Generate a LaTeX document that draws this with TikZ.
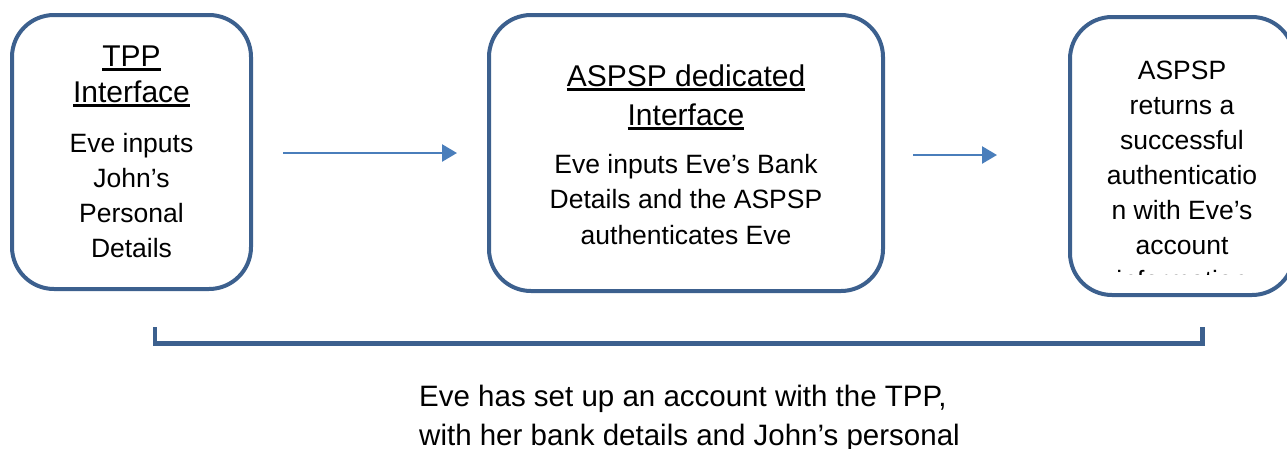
\documentclass[tikz,border=0pt]{standalone}
\usepackage{fontspec}
\setmainfont{Liberation Sans}
\usetikzlibrary{arrows.meta}
\definecolor{boxblue}{RGB}{60,96,142}
\definecolor{arrowblue}{RGB}{74,126,187}
\newcommand{\myul}[1]{\setbox0\hbox{#1}\rlap{\rule[-4.5pt]{\wd0}{2.6pt}}\box0}
\tikzset{
  stagebox/.style={draw=boxblue, line width=4pt, rounded corners=42pt, fill=white, inner sep=0pt},
  txt/.style={inner sep=0pt, align=center, font=\fontsize{26.5}{35}\selectfont, anchor=north},
  ttl/.style={inner sep=0pt, align=center, anchor=north},
  flow/.style={draw=arrowblue, line width=2.5pt, -{Triangle[length=15pt,width=17pt]}},
  bracketline/.style={draw=boxblue, line width=4.6pt, line cap=butt}
}
\begin{document}
\begin{tikzpicture}[x=1pt,y=-1pt]
\useasboundingbox (0,0) rectangle (1287,448);
\clip (0,0) rectangle (1287,448);
% boxes
\node[stagebox, minimum width=239pt, minimum height=274pt] (b1) at (131.5,152) {};
\node[stagebox, minimum width=394pt, minimum height=276pt] (b2) at (686,153) {};
\node[stagebox, minimum width=224pt, minimum height=278pt] (b3) at (1182,156) {};
% titles
\node[ttl, font=\fontsize{30}{36}\selectfont] (h1) at (131.5,45.5) {\myul{TPP}\\\myul{Interface}};
\node[ttl, font=\fontsize{30}{39}\selectfont] (h2) at (686,64.5) {\myul{ASPSP dedicated}\\\myul{Interface}};
% texts
\node[txt] (t1) at (131.5,133) {Eve inputs\\John’s\\Personal\\Details};
\node[txt, font=\fontsize{26.5}{35.5}\selectfont] (t2) at (686,154) {Eve inputs Eve’s Bank\\Details and the ASPSP\\authenticates Eve};
\begin{scope}
\clip (1072,19) rectangle (1292,274);
\node[txt] (t3) at (1182,61) {ASPSP\\returns a\\successful\\authenticatio\\n with Eve’s\\account\\information};
\end{scope}
% arrows
\coordinate (a1s) at (283,153);
\coordinate (a1e) at (457,153);
\coordinate (a2s) at (913,155);
\coordinate (a2e) at (997,155);
\draw[flow] (a1s) -- (a1e);
\draw[flow] (a2s) -- (a2e);
% bracket
\coordinate (bl) at (155,327);
\coordinate (br) at (1202.5,327);
\coordinate (bb) at (0,343.5);
\draw[bracketline] (bl) -- (bl |- bb) -- (br |- bb) -- (br);
% bottom text
\node[txt, align=left, anchor=north west, font=\fontsize{29.5}{38.5}\selectfont] (note) at (419,385) {Eve has set up an account with the TPP,\\with her bank details and John’s personal};
\end{tikzpicture}
\end{document}
